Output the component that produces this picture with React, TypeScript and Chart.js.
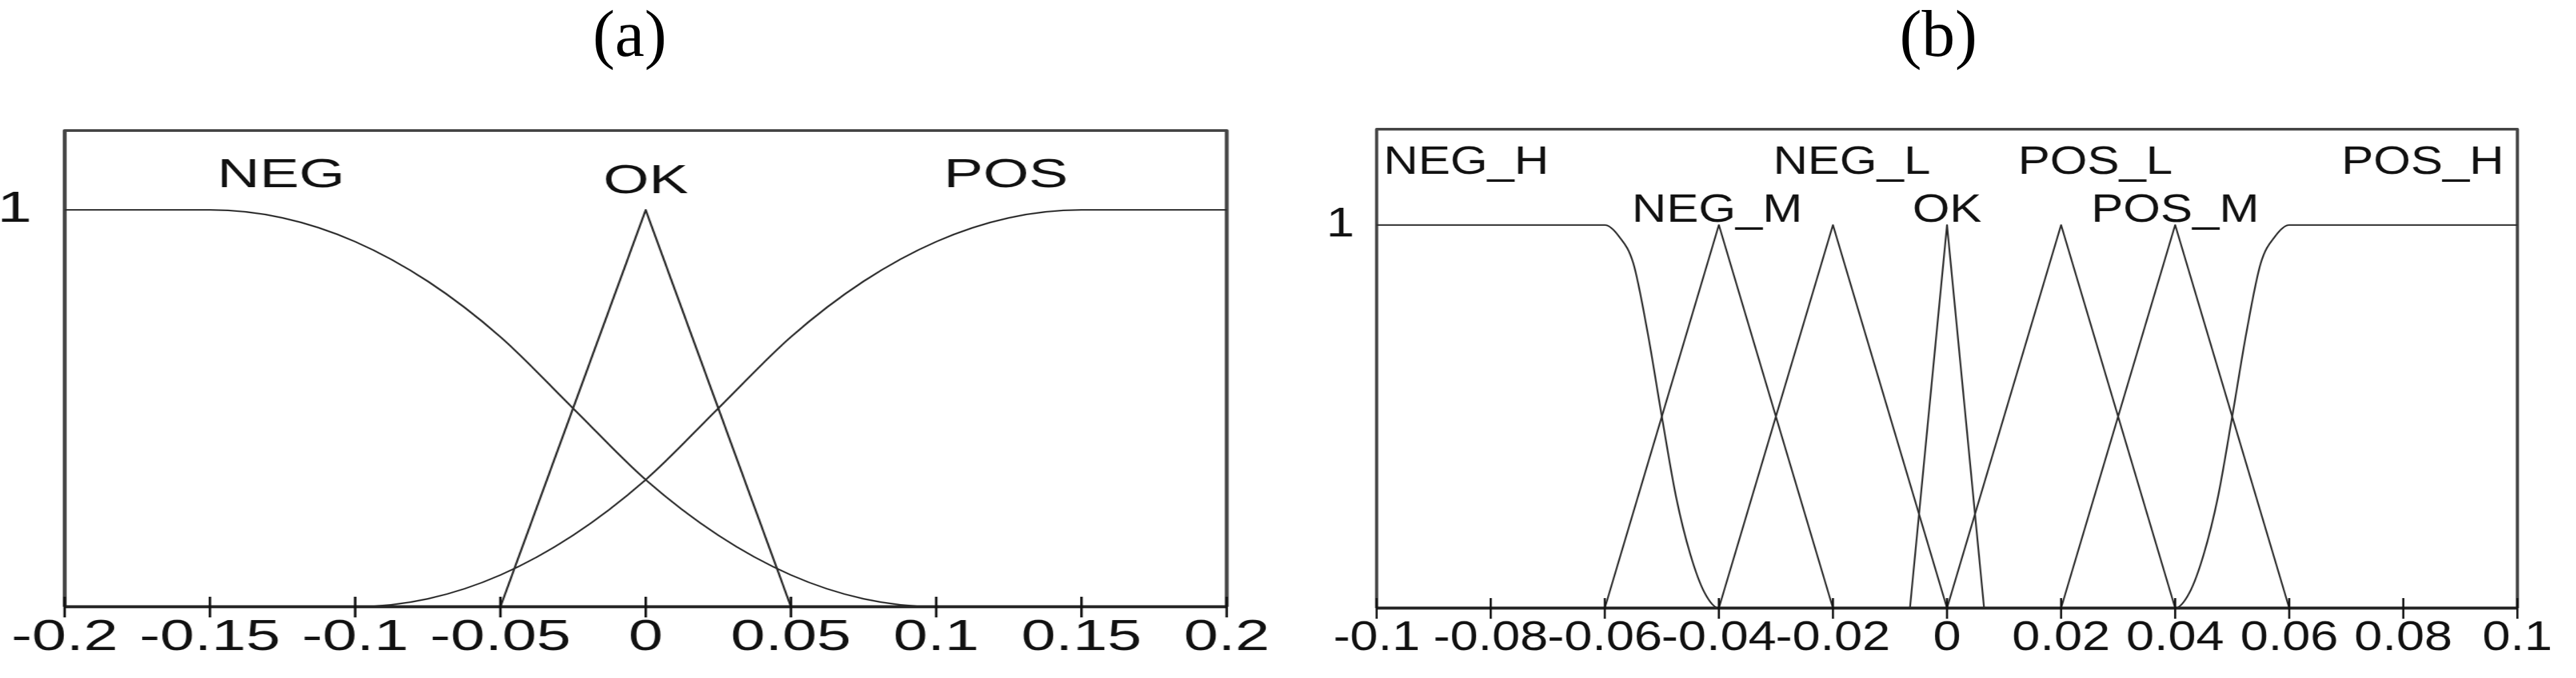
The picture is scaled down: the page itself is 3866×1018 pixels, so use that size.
import React, { useEffect, useRef } from "react";
import { Chart, registerables } from "chart.js";

Chart.register(...registerables);

// ---------------- Panel (a) data ----------------
const A_X_TICKS = [-0.2, -0.15, -0.1, -0.05, 0, 0.05, 0.1, 0.15, 0.2];
const A_X_TICK_LABELS = ["-0.2", "-0.15", "-0.1", "-0.05", "0", "0.05", "0.1", "0.15", "0.2"];

const A_NEG_X = [-0.2, -0.15, -0.125, -0.1, -0.075, -0.05, -0.025, 0, 0.025, 0.05, 0.075, 0.1, 0.2];
const A_NEG_Y = [1, 1, 0.98, 0.92, 0.82, 0.68, 0.5, 0.32, 0.18, 0.08, 0.02, 0, 0];

const A_OK_X = [-0.2, -0.05, 0, 0.05, 0.2];
const A_OK_Y = [0, 0, 1, 0, 0];

const A_POS_X = [-0.2, -0.1, -0.075, -0.05, -0.025, 0, 0.025, 0.05, 0.075, 0.1, 0.125, 0.15, 0.2];
const A_POS_Y = [0, 0, 0.02, 0.08, 0.18, 0.32, 0.5, 0.68, 0.82, 0.92, 0.98, 1, 1];

const A_LABELS = ["NEG", "OK", "POS"];
const A_LABEL_X = [-0.1255, 0, 0.124];
const A_LABEL_Y = [1.058, 1.042, 1.058];

// ---------------- Panel (b) data ----------------
const B_X_TICKS = [-0.1, -0.08, -0.06, -0.04, -0.02, 0, 0.02, 0.04, 0.06, 0.08, 0.1];
const B_X_TICK_LABELS = ["-0.1", "-0.08", "-0.06", "-0.04", "-0.02", "0", "0.02", "0.04", "0.06", "0.08", "0.1"];

const B_NEGH_X = [-0.1, -0.06, -0.0575, -0.055, -0.0525, -0.05, -0.0475, -0.045, -0.0425, -0.04, 0.1];
const B_NEGH_Y = [1, 1, 0.97, 0.9, 0.72, 0.5, 0.29, 0.14, 0.04, 0, 0];

const B_NEGM_X = [-0.1, -0.06, -0.04, -0.02, 0.1];
const B_NEGM_Y = [0, 0, 1, 0, 0];

const B_NEGL_X = [-0.1, -0.04, -0.02, 0, 0.1];
const B_NEGL_Y = [0, 0, 1, 0, 0];

const B_OK_X = [-0.1, -0.0065, 0, 0.0065, 0.1];
const B_OK_Y = [0, 0, 1, 0, 0];

const B_POSL_X = [-0.1, 0, 0.02, 0.04, 0.1];
const B_POSL_Y = [0, 0, 1, 0, 0];

const B_POSM_X = [-0.1, 0.02, 0.04, 0.06, 0.1];
const B_POSM_Y = [0, 0, 1, 0, 0];

const B_POSH_X = [-0.1, 0.04, 0.0425, 0.045, 0.0475, 0.05, 0.0525, 0.055, 0.0575, 0.06, 0.1];
const B_POSH_Y = [0, 0, 0.04, 0.14, 0.29, 0.5, 0.72, 0.9, 0.97, 1, 1];

const B_LABELS = ["NEG_H", "NEG_M", "NEG_L", "OK", "POS_L", "POS_M", "POS_H"];
const B_LABEL_X = [-0.0843, -0.0403, -0.0167, 0, 0.026, 0.04, 0.0834];
const B_LABEL_Y = [1.134, 1.009, 1.134, 1.009, 1.134, 1.009, 1.134];

// shared y tick
const Y_TICKS = [1];
const Y_TICK_LABELS = ["1"];

const TITLES = ["(a)", "(b)"];

const FONT_SANS = "'Liberation Sans', Arial, Helvetica, sans-serif";

interface SeriesCfg {
  xs: number[];
  ys: number[];
  smooth: boolean;
}

interface PanelCfg {
  series: SeriesCfg[];
  xMin: number;
  xMax: number;
  yMax: number;
  xTicks: number[];
  xTickLabels: string[];
  labels: string[];
  labelX: number[];
  labelY: number[];
  canvasW: number;
  canvasH: number;
  stretch: number;
  plotLeft: number;
  plotRight: number;
  padTop: number;
  xAxisH: number;
  tickFont: number;
  labelFont: number;
  yPad: number;
  xPad: number;
}

const PANEL_A: PanelCfg = {
  series: [
    { xs: A_NEG_X, ys: A_NEG_Y, smooth: true },
    { xs: A_OK_X, ys: A_OK_Y, smooth: false },
    { xs: A_POS_X, ys: A_POS_Y, smooth: true },
  ],
  xMin: -0.2,
  xMax: 0.2,
  yMax: 1.2,
  xTicks: A_X_TICKS,
  xTickLabels: A_X_TICK_LABELS,
  labels: A_LABELS,
  labelX: A_LABEL_X,
  labelY: A_LABEL_Y,
  canvasW: 1331,
  canvasH: 868,
  stretch: 1.45,
  plotLeft: 97 / 1.45,
  plotRight: 1841 / 1.45,
  padTop: 46,
  xAxisH: 107,
  tickFont: 64,
  labelFont: 61,
  yPad: 34,
  xPad: 9,
};

const PANEL_B: PanelCfg = {
  series: [
    { xs: B_NEGH_X, ys: B_NEGH_Y, smooth: true },
    { xs: B_NEGM_X, ys: B_NEGM_Y, smooth: false },
    { xs: B_NEGL_X, ys: B_NEGL_Y, smooth: false },
    { xs: B_OK_X, ys: B_OK_Y, smooth: false },
    { xs: B_POSL_X, ys: B_POSL_Y, smooth: false },
    { xs: B_POSM_X, ys: B_POSM_Y, smooth: false },
    { xs: B_POSH_X, ys: B_POSH_Y, smooth: true },
  ],
  xMin: -0.1,
  xMax: 0.1,
  yMax: 1.25,
  xTicks: B_X_TICKS,
  xTickLabels: B_X_TICK_LABELS,
  labels: B_LABELS,
  labelX: B_LABEL_X,
  labelY: B_LABEL_Y,
  canvasW: 1597,
  canvasH: 868,
  stretch: 1.2,
  plotLeft: 116 / 1.2,
  plotRight: 1828 / 1.2,
  padTop: 44,
  xAxisH: 105,
  tickFont: 63,
  labelFont: 60,
  yPad: 28,
  xPad: 8,
};

function MFChart({ cfg, left, top }: { cfg: PanelCfg; left: number; top: number }) {
  const ref = useRef<HTMLCanvasElement | null>(null);

  useEffect(() => {
    const canvas = ref.current;
    if (!canvas) return;

    const decor = {
      id: "decor",
      beforeDatasetsDraw(chart: any) {
        const { ctx, chartArea } = chart;
        const { left: l, right: r, top: t, bottom: b } = chartArea;
        ctx.save();
        ctx.strokeStyle = "#454545";
        ctx.lineWidth = 4;
        ctx.lineJoin = "round";
        ctx.beginPath();
        ctx.moveTo(l, b);
        ctx.lineTo(l, t);
        ctx.lineTo(r, t);
        ctx.lineTo(r, b);
        ctx.stroke();
        ctx.restore();
      },
      afterDatasetsDraw(chart: any) {
        const { ctx, chartArea, scales } = chart;
        const xs = scales.x;
        const ys = scales.y;
        const { left: l, right: r, bottom: b } = chartArea;
        ctx.save();
        ctx.strokeStyle = "#262626";
        ctx.lineWidth = 4.5;
        ctx.beginPath();
        ctx.moveTo(l, b);
        ctx.lineTo(r, b);
        ctx.stroke();
        ctx.strokeStyle = "#111";
        ctx.lineWidth = 2.6;
        for (const t of xs.ticks) {
          const px = xs.getPixelForValue(t.value);
          ctx.beginPath();
          ctx.moveTo(px, b - 15);
          ctx.lineTo(px, b + 16);
          ctx.stroke();
        }
        ctx.fillStyle = "#111";
        ctx.font = `${cfg.labelFont}px ${FONT_SANS}`;
        ctx.textAlign = "center";
        ctx.textBaseline = "alphabetic";
        cfg.labels.forEach((s, i) => {
          ctx.fillText(s, xs.getPixelForValue(cfg.labelX[i]), ys.getPixelForValue(cfg.labelY[i]));
        });
        ctx.restore();
      },
    };

    const chart = new Chart(canvas, {
      type: "scatter",
      data: {
        datasets: cfg.series.map((s) => ({
          data: s.xs.map((x, i) => ({ x, y: s.ys[i] })),
          showLine: true,
          borderColor: "#2b2b2b",
          borderWidth: 2.2,
          borderJoinStyle: "round",
          pointRadius: 0,
          pointHoverRadius: 0,
          tension: 0,
          cubicInterpolationMode: s.smooth ? "monotone" : "default",
          clip: false,
        })) as any,
      },
      options: {
        animation: false,
        responsive: false,
        devicePixelRatio: 1,
        events: [],
        layout: {
          padding: { left: 0, right: cfg.canvasW - cfg.plotRight, top: cfg.padTop, bottom: 0 },
        },
        plugins: {
          legend: { display: false },
          tooltip: { enabled: false },
          title: { display: false },
        },
        scales: {
          x: {
            type: "linear",
            min: cfg.xMin,
            max: cfg.xMax,
            grid: { display: false, drawTicks: false },
            border: { display: false },
            afterBuildTicks: (ax: any) => {
              ax.ticks = cfg.xTicks.map((v) => ({ value: v }));
            },
            afterFit: (ax: any) => {
              ax.height = cfg.xAxisH;
              ax.paddingLeft = 0;
              ax.paddingRight = 0;
              ax.paddingTop = 0;
              ax.paddingBottom = 0;
            },
            ticks: {
              autoSkip: false,
              maxRotation: 0,
              minRotation: 0,
              padding: cfg.xPad,
              color: "#111",
              font: { family: FONT_SANS, size: cfg.tickFont },
              callback: (_v: any, i: number) => cfg.xTickLabels[i],
            },
          },
          y: {
            type: "linear",
            min: 0,
            max: cfg.yMax,
            grid: { display: false, drawTicks: false },
            border: { display: false },
            afterBuildTicks: (ax: any) => {
              ax.ticks = Y_TICKS.map((v) => ({ value: v }));
            },
            afterFit: (ax: any) => {
              ax.width = cfg.plotLeft;
              ax.paddingTop = 0;
              ax.paddingBottom = 0;
              ax.paddingLeft = 0;
              ax.paddingRight = 0;
            },
            ticks: {
              padding: cfg.yPad,
              color: "#111",
              font: { family: FONT_SANS, size: cfg.tickFont },
              callback: (_v: any, i: number) => Y_TICK_LABELS[i],
            },
          },
        },
      } as any,
      plugins: [decor],
    });

    return () => chart.destroy();
  }, [cfg]);

  return (
    <div
      style={{
        position: "absolute",
        left,
        top,
        width: cfg.canvasW,
        height: cfg.canvasH,
        transform: `scaleX(${cfg.stretch})`,
        transformOrigin: "0 0",
      }}
    >
      <canvas ref={ref} width={cfg.canvasW} height={cfg.canvasH} />
    </div>
  );
}

const titleStyle = (centerX: number): React.CSSProperties => ({
  position: "absolute",
  left: centerX - 200,
  top: 1,
  width: 400,
  textAlign: "center",
  fontFamily: "'Liberation Serif', 'Times New Roman', serif",
  fontSize: 100,
  lineHeight: "100px",
  color: "#000",
});

export default function App() {
  return (
    <div
      style={{
        position: "absolute",
        left: 0,
        top: 0,
        width: 3866,
        height: 1018,
        background: "#fff",
        overflow: "hidden",
      }}
    >
      <div style={titleStyle(945)}>{TITLES[0]}</div>
      <div style={titleStyle(2909)}>{TITLES[1]}</div>
      <MFChart cfg={PANEL_A} left={0} top={150} />
      <MFChart cfg={PANEL_B} left={1950} top={150} />
    </div>
  );
}
